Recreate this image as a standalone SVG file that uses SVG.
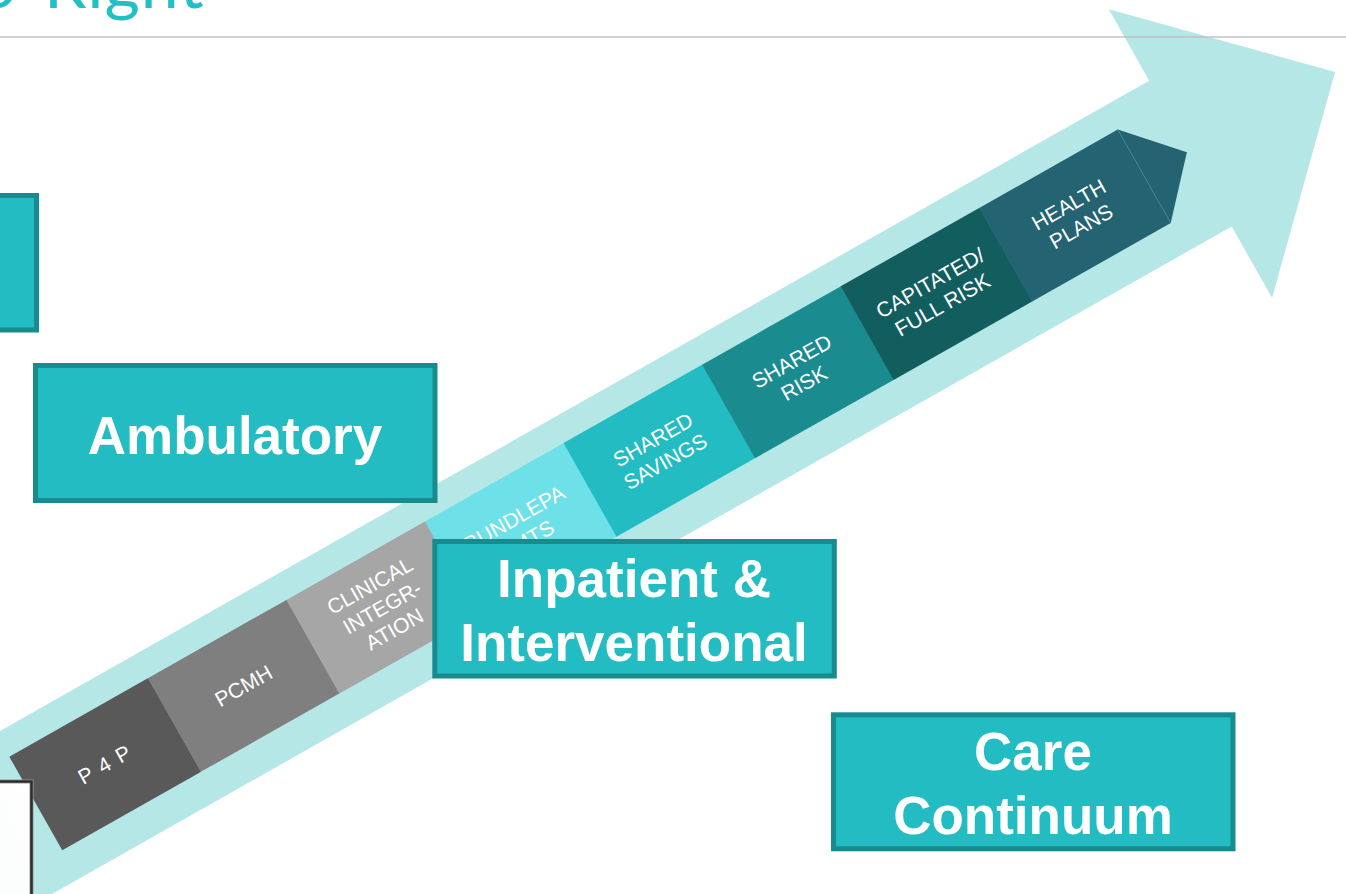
<svg xmlns="http://www.w3.org/2000/svg" width="1346" height="894" viewBox="0 0 1346 894">
  <style>
    .box { fill: #22bcc2; stroke: #178b8e; stroke-width: 5; }
    .boxText { font-family: "Liberation Sans", Arial, sans-serif; font-weight: bold; font-size: 53px; fill: #ffffff; text-anchor: middle; }
    .segText { font-family: "Liberation Sans", Arial, sans-serif; font-size: 21px; fill: #ffffff; text-anchor: middle; }
    .title { font-family: Lato, "Open Sans", sans-serif; font-size: 68px; fill: #22bfc4; }
  </style>
  <defs>
    <linearGradient id="paper" x1="1" y1="0" x2="0" y2="1">
      <stop offset="0" stop-color="#ffffff"/>
      <stop offset="0.7" stop-color="#fbfcfc"/>
      <stop offset="1" stop-color="#e8eeee"/>
    </linearGradient>
  </defs>

  <rect x="0" y="0" width="1346" height="894" fill="#ffffff"/>

  <!-- heading, cropped at the top edge -->
  <g id="title">
    <text class="title" x="-22" y="8">o</text>
    <text class="title" x="44" y="8" letter-spacing="1">Right</text>
  </g>

  <!-- everything along the rising axis shares one rotated frame -->
  <g id="progression" transform="translate(9.3 756.7) rotate(-29.5)">
    <!-- broad light arrow behind the stages -->
    <polygon id="big-arrow" fill="#b4e7e6"
      points="-220,-27 1325,-27 1325,-109 1491,57 1325,222.5 1325,140.5 -220,140.5"/>

    <g id="stage-p4p">
      <rect x="0" y="0" width="159.6" height="107.5" fill="#595959"/>
      <text class="segText" x="79.6" y="61" letter-spacing="1.5">P 4 P</text>
    </g>
    <g id="stage-pcmh">
      <rect x="159.2" y="0" width="159.6" height="107.5" fill="#7f7f7f"/>
      <text class="segText" x="238.8" y="61">PCMH</text>
    </g>
    <g id="stage-clinical">
      <rect x="318.4" y="0" width="159.6" height="107.5" fill="#a6a6a6"/>
      <text class="segText" x="398" y="36">CLINICAL</text>
      <text class="segText" x="398" y="61">INTEGR-</text>
      <text class="segText" x="398" y="86">ATION</text>
    </g>
    <g id="stage-bundled">
      <rect x="477.6" y="0" width="159.6" height="107.5" fill="#6de1e7"/>
      <text class="segText" x="557.2" y="48.5">BUNDLEPA</text>
      <text class="segText" x="557.2" y="73.5">YMTS</text>
    </g>
    <g id="stage-shared-savings">
      <rect x="636.8" y="0" width="159.6" height="107.5" fill="#22bcc2"/>
      <text class="segText" x="716.4" y="48.5">SHARED</text>
      <text class="segText" x="716.4" y="73.5">SAVINGS</text>
    </g>
    <g id="stage-shared-risk">
      <rect x="796" y="0" width="159.6" height="107.5" fill="#1a8b8f"/>
      <text class="segText" x="875.6" y="48.5">SHARED</text>
      <text class="segText" x="875.6" y="73.5">RISK</text>
    </g>
    <g id="stage-capitated">
      <rect x="955.2" y="0" width="159.6" height="107.5" fill="#125e5f"/>
      <text class="segText" x="1034.8" y="48.5">CAPITATED/</text>
      <text class="segText" x="1034.8" y="73.5">FULL RISK</text>
    </g>
    <g id="stage-health-plans">
      <polygon points="1114.4,0 1273.6,0 1322.6,53.7 1273.6,107.5 1114.4,107.5" fill="#236372"/>
      <line x1="1273.6" y1="0" x2="1273.6" y2="107.5" stroke="#4c8a96" stroke-width="0.8"/>
      <text class="segText" x="1194" y="48.5">HEALTH</text>
      <text class="segText" x="1194" y="73.5">PLANS</text>
    </g>
  </g>

  <!-- rule under the heading -->
  <line x1="0" y1="37" x2="1346" y2="37" stroke="#bdbdbd" stroke-width="2" stroke-opacity="0.7"/>

  <g id="node-top-left">
    <rect class="box" x="-20" y="195.5" width="56.5" height="134.5"/>
  </g>

  <g id="node-ambulatory">
    <rect class="box" x="35.5" y="365.5" width="399.5" height="135"/>
    <text class="boxText" x="235" y="454">Ambulatory</text>
  </g>

  <g id="node-inpatient">
    <rect class="box" x="434.8" y="541.5" width="399.5" height="134.5"/>
    <text class="boxText" x="634" y="597">Inpatient &amp;</text>
    <text class="boxText" x="634" y="661">Interventional</text>
  </g>

  <g id="node-care-continuum">
    <rect class="box" x="833.5" y="714.8" width="399.5" height="134"/>
    <text class="boxText" x="1033" y="770">Care</text>
    <text class="boxText" x="1033" y="833.5">Continuum</text>
  </g>

  <g id="node-bottom-left">
    <rect x="-20" y="781.5" width="51.5" height="140" fill="url(#paper)" stroke="#9a9a9a" stroke-width="4"/>
    <rect x="-20" y="781.5" width="51.5" height="140" fill="none" stroke="#2e2e2e" stroke-width="2.5"/>
  </g>
</svg>
